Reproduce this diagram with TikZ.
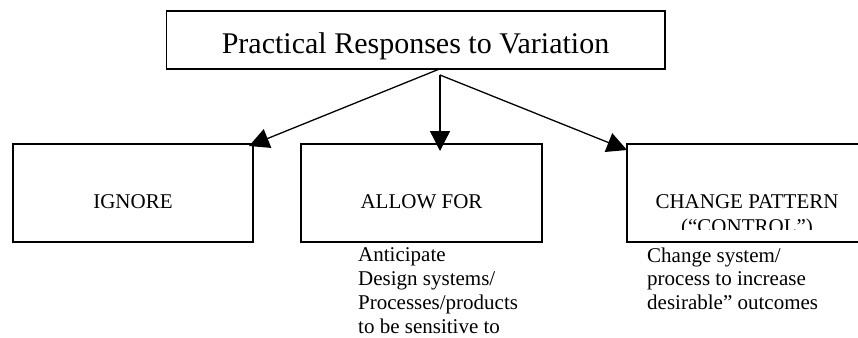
\documentclass[tikz,border=0pt]{standalone}
\usepackage{fontspec}
\setmainfont{Liberation Serif}
\usetikzlibrary{arrows.meta}
\tikzset{
  frame/.style={draw=black, line width=1.5pt},
  link/.style={draw=black, line width=1.3pt, -{Triangle[length=20pt,width=20pt]}},
  boxlabel/.style={font=\fontsize{21}{24}\selectfont, inner sep=0pt, anchor=base},
  note/.style={font=\fontsize{21}{23.7}\selectfont, align=left, anchor=north west, inner sep=0pt},
}
\begin{document}
\begin{tikzpicture}[x=1pt, y=-1pt]
  \useasboundingbox (0,0) rectangle (858,337);

  % title box
  \draw[frame] (166.5,11) rectangle (665,69);
  \node[font=\fontsize{30}{34}\selectfont, inner sep=0pt, anchor=base] (title) at (415.5,53) {Practical Responses to Variation};

  % three response boxes
  \draw[frame] (13,144) rectangle (253,242);
  \node[boxlabel] (ignore) at (133,208) {IGNORE};

  \draw[frame] (301,144) rectangle (542,242);
  \node[boxlabel] (allow) at (421.5,208) {ALLOW FOR};

  \draw[frame] (858.75,144) -- (627,144) -- (627,242) -- (858.75,242);
  \node[boxlabel] (change) at (747,208) {CHANGE PATTERN};
  \begin{scope}
    \clip (627,144) rectangle (858,229.5);
    \node[boxlabel] (control) at (747,233) {(``CONTROL'')};
  \end{scope}

  % connectors
  \coordinate (src) at (439.5,69);
  \coordinate (fork) at (440,75);
  \coordinate (tipI) at (249,146);
  \coordinate (tipA) at (440,151);
  \coordinate (tipC) at (627,150);
  \draw[link] (src) -- (tipI);
  \draw[link] (fork) -- (tipA);
  \draw[link] (fork) -- (tipC);

  % notes under the boxes
  \node[note] (noteA) at (358,247.8) {Anticipate\\Design systems/\\Processes/products\\to be sensitive to};
  \node[note] (noteC) at (647,247.5) {Change system/\\process to increase\\desirable'' outcomes};
\end{tikzpicture}
\end{document}
